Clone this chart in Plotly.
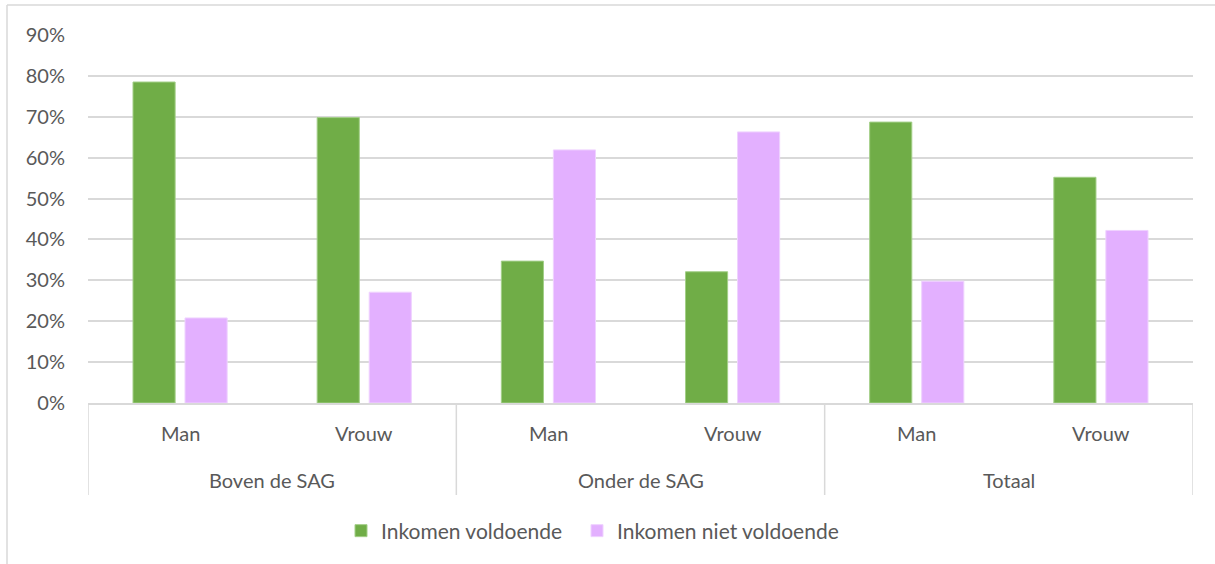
import plotly.graph_objects as go

groups = ["Boven de SAG", "Onder de SAG", "Totaal"]
genders = ["Man", "Vrouw"]
series_names = ["Inkomen voldoende", "Inkomen niet voldoende"]
voldoende = [0.785, 0.698, 0.347, 0.321, 0.687, 0.552]
niet_voldoende = [0.208, 0.271, 0.619, 0.663, 0.298, 0.422]
y_ticks = [0, 0.1, 0.2, 0.3, 0.4, 0.5, 0.6, 0.7, 0.8, 0.9]

sub_labels = [g for _ in groups for g in genders]
xpos = list(range(len(sub_labels)))

FONT = "Lato, Carlito, Calibri, sans-serif"
TXT = "#595959"
GRID = "#d9d9d9"

fig = go.Figure()
fig.add_trace(go.Bar(x=xpos, y=voldoende, name=series_names[0], legend="legend", showlegend=True,
                     marker=dict(color="#70AD47", line=dict(color="#a3cf88", width=1))))
fig.add_trace(go.Bar(x=xpos, y=niet_voldoende, name=series_names[1], legend="legend2", showlegend=True,
                     marker=dict(color="#E3B0FF", line=dict(color="#efd2ff", width=1))))

H_PLOT = 368.0
W_PLOT = 1105.0
def py(pix_below):
    return -pix_below / H_PLOT
def px(img_x):
    return (img_x - 88) / W_PLOT

annotations = []
for i, lab in enumerate(sub_labels):
    annotations.append(dict(x=xpos[i], y=py(30), xref="x", yref="paper", text=lab,
                            showarrow=False, yanchor="middle",
                            font=dict(family=FONT, size=20, color=TXT)))
n = len(genders)
for gi, g in enumerate(groups):
    center = (xpos[gi * n] + xpos[gi * n + n - 1]) / 2
    annotations.append(dict(x=center, y=py(77), xref="x", yref="paper", text=g,
                            showarrow=False, yanchor="middle",
                            font=dict(family=FONT, size=20, color=TXT)))

shapes = []
for gi in range(len(groups) + 1):
    xd = gi * n - 0.5
    shapes.append(dict(type="line", xref="x", yref="paper", x0=xd, x1=xd,
                       y0=0, y1=py(92), line=dict(color=GRID, width=1.5)))
# chart frame
shapes.append(dict(type="line", xref="paper", yref="paper",
                   x0=px(7), x1=px(1216),
                   y0=1 + 30 / H_PLOT, y1=1 + 30 / H_PLOT, line=dict(color=GRID, width=1.5)))
shapes.append(dict(type="line", xref="paper", yref="paper",
                   x0=px(7), x1=px(7),
                   y0=1 + 30 / H_PLOT, y1=py(170), line=dict(color=GRID, width=1.5)))

leg_common = dict(orientation="h", xanchor="left", y=py(128), yanchor="middle",
                  font=dict(family=FONT, size=21, color=TXT), bgcolor="rgba(0,0,0,0)")

fig.update_layout(
    width=1215, height=564,
    margin=dict(l=88, r=22, t=35, b=161),
    paper_bgcolor="white", plot_bgcolor="white",
    showlegend=True,
    barmode="group", bargap=0.435, bargroupgap=0.19,
    font=dict(family=FONT, size=20, color=TXT),
    xaxis=dict(range=[-0.5, len(xpos) - 0.5], showticklabels=False, showgrid=False,
               zeroline=False, showline=True, linecolor=GRID, linewidth=1.5, ticks=""),
    yaxis=dict(range=[0, 0.9], tickvals=y_ticks, tickformat=".0%", showgrid=True,
               gridcolor=GRID, gridwidth=1.5, zeroline=False, showline=False,
               ticklabelstandoff=22, tickfont=dict(family=FONT, size=20, color=TXT)),
    legend=dict(x=px(341), **leg_common),
    legend2=dict(x=px(577), **leg_common),
    annotations=annotations, shapes=shapes,
)

fig.write_html("out.html", config={"displayModeBar": False},
               post_script="document.body.style.margin='0';document.body.style.padding='0';")
